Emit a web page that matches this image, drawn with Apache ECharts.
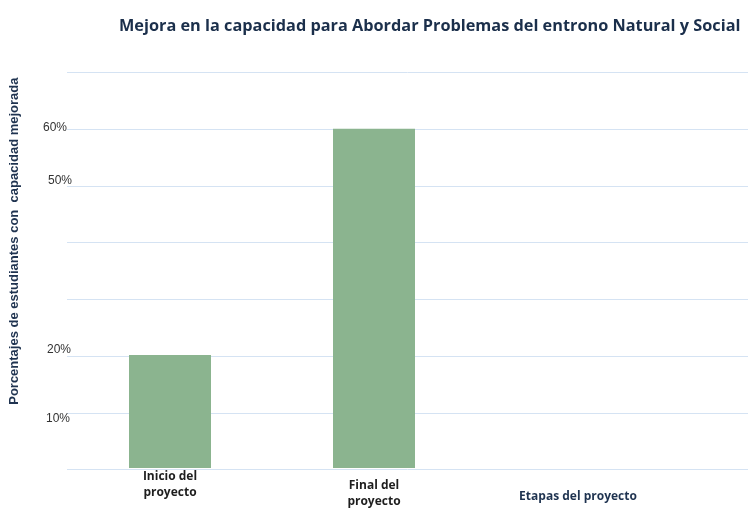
<!DOCTYPE html>
<html><head><meta charset="utf-8">
<script src="https://cdn.jsdelivr.net/npm/echarts@6/dist/echarts.min.js"></script>
<style>html,body{margin:0;padding:0;background:#fff}#c{width:748px;height:508px}</style>
</head><body><div id="c"></div>
<script>
const title = 'Mejora en la capacidad para Abordar Problemas del entrono Natural y Social';
const yAxisTitle = 'Porcentajes de estudiantes con  capacidad mejorada';
const categories = ['Inicio del\nproyecto', 'Final del\nproyecto', 'Etapas del proyecto'];
const values = [20, 60, null];
const yTickLabels = {10: '10%', 20: '20%', 50: '50%', 60: '60%'};

const chart = echarts.init(document.getElementById('c'));
const yBase = {type: 'value', min: 0, max: 70, interval: 10};
const lblFont = {fontFamily: 'Open Sans', fontWeight: 'bold', fontSize: 12, lineHeight: 16};
chart.setOption({
  animation: false,
  title: {
    text: title, left: 114, top: 13,
    textStyle: {fontFamily: 'Open Sans', fontWeight: 'bold', fontSize: 16.3, color: '#1b2f4b'}
  },
  grid: [
    {left: 67, right: 0, top: 72.3, bottom: 38.5},
    {left: 68, width: 612, top: 72.3, bottom: 38.5}
  ],
  xAxis: [
    {gridIndex: 0, type: 'category', data: ['a'], show: false},
    {gridIndex: 1, type: 'category', data: categories,
     axisLine: {show: false}, axisTick: {show: false},
     axisLabel: {
       margin: 1, interval: 0,
       formatter: function (v, i) {
         const lines = v.split('\n');
         const st = i === 2 ? 'e' : 'c';
         let s = lines.map(l => '{' + st + '|' + l + '}').join('\n');
         if (i === 1) s = '{s1| }\n' + s;
         if (i === 2) s = '{s2| }\n' + s;
         return s;
       },
       rich: {
         c: Object.assign({color: '#1e1e1e'}, lblFont),
         e: Object.assign({color: '#1f3350'}, lblFont),
         s1: {fontSize: 6, lineHeight: 9},
         s2: {fontSize: 6, lineHeight: 20}
       }
     }}
  ],
  yAxis: [
    Object.assign({gridIndex: 0, axisLabel: {show: false}, axisLine: {show: false}, axisTick: {show: false},
      splitLine: {show: true, lineStyle: {color: '#d5e3f3', width: 1}}}, yBase),
    Object.assign({gridIndex: 1, axisLine: {show: false}, axisTick: {show: false},
      splitLine: {show: false},
      name: yAxisTitle, nameLocation: 'middle', nameGap: 47, nameRotate: 90,
      nameTextStyle: {fontFamily: 'Liberation Sans', fontWeight: 'bold', fontSize: 13, color: '#1f3350',
                      padding: [0, 0, 0, 58]},
      axisLabel: {
        margin: 0,
        formatter: function (v) {
          const t = yTickLabels[v];
          if (!t) return '';
          return '{l' + v + '|' + t + '}';
        },
        rich: {
          l60: {fontFamily: 'Liberation Sans', fontSize: 12, color: '#333', padding: [0, 1, 3, 0]},
          l50: {fontFamily: 'Liberation Sans', fontSize: 12, color: '#333', padding: [0, -4, 10, 0]},
          l20: {fontFamily: 'Liberation Sans', fontSize: 12, color: '#333', padding: [0, -3, 10, 0]},
          l10: {fontFamily: 'Liberation Sans', fontSize: 12, color: '#333', padding: [14, -2, 0, 0]}
        }
      }}, yBase)
  ],
  series: [{
    type: 'bar', xAxisIndex: 1, yAxisIndex: 1, data: values, barWidth: 82,
    itemStyle: {color: '#8bb48f'}
  }]
});
</script></body></html>
